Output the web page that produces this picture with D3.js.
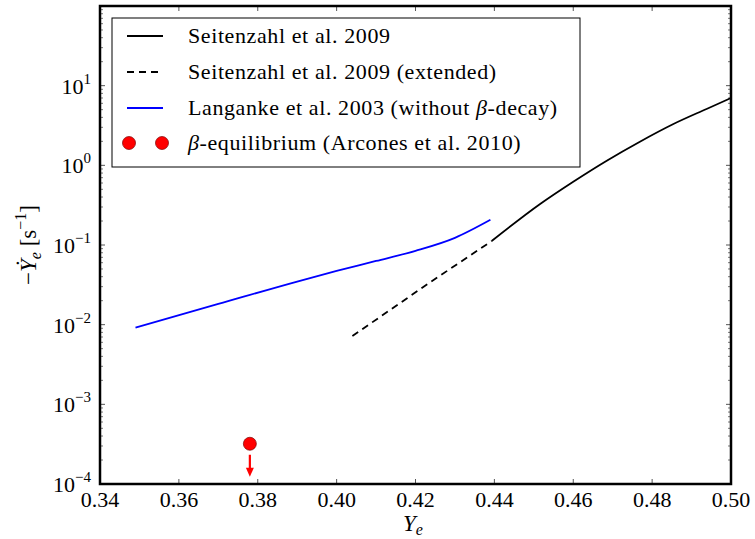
<!DOCTYPE html>
<html>
<head>
<meta charset="utf-8">
<script src="https://cdn.jsdelivr.net/npm/d3@7"></script>
<style>
  html, body { margin: 0; padding: 0; background: #fff; }
  svg { display: block; }
</style>
</head>
<body>
<svg id="chart" width="755" height="539"></svg>
<script>
// Electron fraction Ye and the rate -dYe/dt [s^-1]
const seitenzahlYe   = [0.4393, 0.4516, 0.46, 0.4685, 0.4769, 0.4854, 0.4938, 0.50];
const seitenzahlRate = [0.112, 0.327, 0.622, 1.143, 1.98, 3.3, 5.1, 7.0];

const extendedYe   = [0.404, 0.4235, 0.4393];
const extendedRate = [0.0072, 0.0335, 0.112];

const langankeYe   = [0.349, 0.37, 0.39, 0.40, 0.41, 0.42, 0.43, 0.439];
const langankeRate = [0.0092, 0.0182, 0.0348, 0.0473, 0.063, 0.0845, 0.123, 0.207];

const equilibriumYe   = [0.378];
const equilibriumRate = [3.2e-4];

const xTicks = [0.34, 0.36, 0.38, 0.40, 0.42, 0.44, 0.46, 0.48, 0.50];
const yTickExps = [-4, -3, -2, -1, 0, 1];

const legendLabels = [
  "Seitenzahl et al. 2009",
  "Seitenzahl et al. 2009 (extended)",
  "Langanke et al. 2003 (without β-decay)",
  "β-equilibrium (Arcones et al. 2010)"
];

const FONT = "'Liberation Serif', 'DejaVu Serif', 'Times New Roman', serif";

const svg = d3.select("#chart").attr("font-family", FONT);
const margin = { left: 100, top: 6, right: 24, bottom: 55 };
const W = 755, H = 539;
const iw = W - margin.left - margin.right;
const ih = H - margin.top - margin.bottom;

const x = d3.scaleLinear().domain([0.34, 0.50]).range([0, iw]);
const y = d3.scaleLog().domain([1e-4, 1e2]).range([ih, 0]);

const g = svg.append("g").attr("transform", `translate(${margin.left},${margin.top})`);

// minor log ticks
const minorVals = [];
for (let e = -4; e < 2; e++) for (let m = 2; m <= 9; m++) minorVals.push(m * Math.pow(10, e));

const tickColor = "#555";
const ticks = g.append("g");
// x major ticks, bottom and top, pointing inward
xTicks.forEach(v => {
  ticks.append("line").attr("x1", x(v)).attr("x2", x(v)).attr("y1", ih).attr("y2", ih - 5)
    .attr("stroke", tickColor).attr("stroke-width", 1);
  ticks.append("line").attr("x1", x(v)).attr("x2", x(v)).attr("y1", 0).attr("y2", 5)
    .attr("stroke", tickColor).attr("stroke-width", 1);
});
// y major and minor ticks, left and right
yTickExps.forEach(e => {
  const yy = y(Math.pow(10, e));
  ticks.append("line").attr("x1", 0).attr("x2", 5).attr("y1", yy).attr("y2", yy)
    .attr("stroke", tickColor).attr("stroke-width", 1);
  ticks.append("line").attr("x1", iw).attr("x2", iw - 5).attr("y1", yy).attr("y2", yy)
    .attr("stroke", tickColor).attr("stroke-width", 1);
});
minorVals.forEach(v => {
  const yy = y(v);
  ticks.append("line").attr("x1", 0).attr("x2", 3).attr("y1", yy).attr("y2", yy)
    .attr("stroke", tickColor).attr("stroke-width", 0.8);
  ticks.append("line").attr("x1", iw).attr("x2", iw - 3).attr("y1", yy).attr("y2", yy)
    .attr("stroke", tickColor).attr("stroke-width", 0.8);
});

// x tick labels
g.append("g").selectAll("text").data(xTicks).join("text")
  .attr("x", d => x(d)).attr("y", ih + 23)
  .attr("text-anchor", "middle").attr("font-size", 22).attr("fill", "#000")
  .text(d => d.toFixed(2));

// y tick labels: 10 with superscript exponent
const yl = g.append("g").selectAll("text").data(yTickExps).join("text")
  .attr("x", -9).attr("y", d => y(Math.pow(10, d)) + 8)
  .attr("text-anchor", "end").attr("font-size", 22).attr("fill", "#000");
yl.append("tspan").text("10");
yl.append("tspan").attr("font-size", 15).attr("dy", -10)
  .text(d => d < 0 ? "\u2212" + Math.abs(d) : String(d));

// data lines
const pts = (xs, ys) => xs.map((v, i) => [v, ys[i]]);
const line = d3.line().x(d => x(d[0])).y(d => y(d[1]));

g.append("path").datum(pts(langankeYe, langankeRate))
  .attr("d", line.curve(d3.curveMonotoneX)).attr("fill", "none")
  .attr("stroke", "#0000ff").attr("stroke-width", 1.8);

g.append("path").datum(pts(extendedYe, extendedRate))
  .attr("d", line.curve(d3.curveLinear)).attr("fill", "none")
  .attr("stroke", "#000").attr("stroke-width", 1.8).attr("stroke-dasharray", "7,5");

g.append("path").datum(pts(seitenzahlYe, seitenzahlRate))
  .attr("d", line.curve(d3.curveMonotoneX)).attr("fill", "none")
  .attr("stroke", "#000").attr("stroke-width", 1.8);

// beta-equilibrium upper limit with downward arrow
const eq = pts(equilibriumYe, equilibriumRate);
eq.forEach(d => {
  const cx = x(d[0]), cy = y(d[1]);
  g.append("line").attr("x1", cx).attr("x2", cx).attr("y1", cy + 11).attr("y2", cy + 26)
    .attr("stroke", "#ff0000").attr("stroke-width", 2.2);
  g.append("path")
    .attr("d", `M${cx - 4},${cy + 24} L${cx + 4},${cy + 24} L${cx},${cy + 33} Z`)
    .attr("fill", "#ff0000");
});
g.selectAll("circle.eq").data(eq).join("circle").attr("class", "eq")
  .attr("cx", d => x(d[0])).attr("cy", d => y(d[1])).attr("r", 6.5)
  .attr("fill", "#ff0000").attr("stroke", "#7a0000").attr("stroke-width", 0.7);

// frame
g.append("rect").attr("x", 0).attr("y", 0).attr("width", iw).attr("height", ih)
  .attr("fill", "none").attr("stroke", "#000").attr("stroke-width", 2.5);

// legend
const lg = svg.append("g").attr("transform", "translate(112,18)");
lg.append("rect").attr("x", 0).attr("y", 0).attr("width", 468).attr("height", 149)
  .attr("fill", "#fff").attr("stroke", "#000").attr("stroke-width", 1);
const rowY = [18, 54, 90, 125];
// samples
lg.append("line").attr("x1", 15).attr("x2", 51).attr("y1", rowY[0]).attr("y2", rowY[0])
  .attr("stroke", "#000").attr("stroke-width", 1.8);
lg.append("line").attr("x1", 15).attr("x2", 51).attr("y1", rowY[1]).attr("y2", rowY[1])
  .attr("stroke", "#000").attr("stroke-width", 1.8).attr("stroke-dasharray", "7,5");
lg.append("line").attr("x1", 15).attr("x2", 51).attr("y1", rowY[2]).attr("y2", rowY[2])
  .attr("stroke", "#0000ff").attr("stroke-width", 1.8);
[17, 50].forEach(cx => lg.append("circle").attr("cx", cx).attr("cy", rowY[3]).attr("r", 6.5)
  .attr("fill", "#ff0000").attr("stroke", "#7a0000").attr("stroke-width", 0.7));

const lt = lg.selectAll("text.lab").data(legendLabels).join("text").attr("class", "lab")
  .attr("x", 76).attr("y", (d, i) => rowY[i] + 7).attr("font-size", 22)
  .attr("letter-spacing", 0.6).attr("fill", "#000");
lt.each(function(d) {
  const t = d3.select(this);
  d.split(/(β)/).forEach(part => {
    if (!part) return;
    const s = t.append("tspan").text(part);
    if (part === "β") s.attr("font-style", "italic");
  });
});

// axis titles
const xt = svg.append("text").attr("x", 413).attr("y", 531)
  .attr("text-anchor", "middle").attr("font-size", 23).attr("fill", "#000");
xt.append("tspan").attr("font-style", "italic").text("Y");
xt.append("tspan").attr("font-style", "italic").attr("font-size", 16).attr("dy", 4).text("e");

const ytl = svg.append("text").attr("transform", "translate(36,245) rotate(-90)")
  .attr("text-anchor", "middle").attr("font-size", 23).attr("fill", "#000");
ytl.append("tspan").text("\u2212");
ytl.append("tspan").attr("font-style", "italic").text("\u1E8E");
ytl.append("tspan").attr("font-style", "italic").attr("font-size", 16).attr("dy", 5).text("e");
ytl.append("tspan").attr("dy", -5).text(" [s");
ytl.append("tspan").attr("font-size", 16).attr("dy", -10).text("\u22121");
ytl.append("tspan").attr("dy", 10).text("]");
</script>
</body>
</html>
